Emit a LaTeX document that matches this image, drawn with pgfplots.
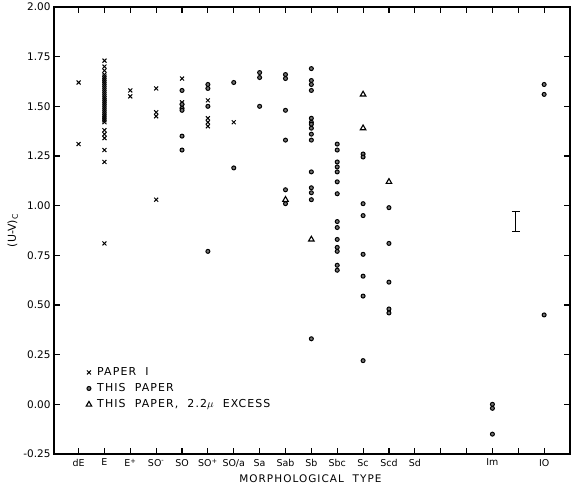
\documentclass[border=0pt]{standalone}
\usepackage{fontspec}
\setmainfont{DejaVu Sans}
\newfontfamily\legendfont[LetterSpace=10,WordSpace=1.6]{DejaVu Sans}
\newfontfamily\labelfont[LetterSpace=10,WordSpace=2]{DejaVu Sans}
\usepackage{pgfplots}
\pgfplotsset{compat=1.18}
\begin{document}
\begin{tikzpicture}
\useasboundingbox (-54bp,-38bp) rectangle (525bp,454bp);
\begin{axis}[
  at={(0,0)}, anchor=south west,
  scale only axis, width=516bp, height=447bp,
  xmin=-0.95, xmax=19, ymin=-0.25, ymax=2.0,
  axis line style={line width=1.3bp},
  major tick style={line width=1.1bp, black},
  major tick length=6bp,
  tick align=inside,
  xtick={0,...,18},
  xticklabels={dE,E,E\textsuperscript{+},SO\textsuperscript{-},SO,SO\textsuperscript{+},SO/a,Sa,Sab,Sb,Sbc,Sc,Scd,Sd,,,Im,,IO},
  xticklabel style={font=\fontsize{9.5}{11}\selectfont, yshift=-1.5bp},
  ytick={-0.25,0,0.25,0.5,0.75,1,1.25,1.5,1.75,2},
  yticklabel style={font=\fontsize{10.5}{12}\selectfont, /pgf/number format/fixed, /pgf/number format/fixed zerofill, /pgf/number format/precision=2, /pgf/number format/assume math mode=true},
  xlabel={MORPHOLOGICAL TYPE},
  xlabel style={font=\labelfont\fontsize{10.5}{12}\selectfont, at={(axis description cs:0.497,-0.055)}, anchor=center},
  ylabel={(U-V)\textsubscript{C}},
  ylabel style={font=\fontsize{11}{13}\selectfont, at={(axis description cs:-0.08,0.5)}, anchor=center},
  legend style={draw=none, fill=none, at={(axis description cs:0.062,0.198)}, anchor=north west, font=\legendfont\fontsize{11}{13}\selectfont, row sep=2.5bp, inner sep=0pt},
  legend cell align=left,
]
\addplot[only marks, mark=x, mark size=2.8bp, line width=1bp, black] coordinates {
(0,1.62) (0,1.31)
(1,1.73) (1,1.70) (1,1.68) (1,1.66) (1,1.65) (1,1.64) (1,1.63) (1,1.62) (1,1.61) (1,1.60)
(1,1.59) (1,1.58) (1,1.57) (1,1.56) (1,1.55) (1,1.54) (1,1.53) (1,1.52) (1,1.51) (1,1.50)
(1,1.49) (1,1.48) (1,1.47) (1,1.46) (1,1.45) (1,1.44) (1,1.43) (1,1.42) (1,1.38) (1,1.36)
(1,1.34) (1,1.28) (1,1.22) (1,0.81)
(2,1.58) (2,1.55)
(3,1.59) (3,1.47) (3,1.45) (3,1.03)
(4,1.64) (4,1.52) (4,1.50)
(5,1.53) (5,1.44) (5,1.42) (5,1.40)
(6,1.42)
};
\addlegendentry{\hspace{3.5bp}PAPER I}
\addplot[only marks, mark=*, mark size=2bp, line width=1bp, draw=black, fill=black!55] coordinates {
(4,1.58) (4,1.51) (4,1.49) (4,1.48) (4,1.35) (4,1.28)
(5,1.61) (5,1.59) (5,1.50) (5,0.77)
(6,1.62) (6,1.19)
(7,1.67) (7,1.645) (7,1.50)
(8,1.66) (8,1.64) (8,1.48) (8,1.33) (8,1.08) (8,1.01)
(9,1.69) (9,1.63) (9,1.61) (9,1.58) (9,1.44) (9,1.42) (9,1.41) (9,1.39) (9,1.36) (9,1.33)
(9,1.17) (9,1.09) (9,1.065) (9,1.03) (9,0.33)
(10,1.31) (10,1.28) (10,1.22) (10,1.195) (10,1.17) (10,1.12) (10,1.06) (10,0.92) (10,0.89)
(10,0.83) (10,0.79) (10,0.77) (10,0.70) (10,0.675)
(11,1.26) (11,1.245) (11,1.01) (11,0.95) (11,0.755) (11,0.645) (11,0.545) (11,0.22)
(12,0.99) (12,0.81) (12,0.615) (12,0.48) (12,0.46)
(16,0.00) (16,-0.02) (16,-0.15)
(18,1.61) (18,1.56) (18,0.45)
};
\addlegendentry{\hspace{3.5bp}THIS PAPER}
\addplot[only marks, mark=triangle, mark size=3.2bp, line width=1.1bp, black] coordinates {
(8,1.03) (9,0.83) (11,1.56) (11,1.39) (12,1.12)
};
\addlegendentry{\hspace{3.5bp}THIS PAPER, 2.2$\mu$ EXCESS}
\addplot[black, forget plot, mark=none,
  error bars/.cd, y dir=both, y explicit,
  error bar style={line width=1.1bp, black},
  error mark options={line width=1.1bp, black, mark size=4bp, rotate=90}]
  coordinates {(16.9,0.92) +- (0,0.05)};
\end{axis}
\end{tikzpicture}
\end{document}
